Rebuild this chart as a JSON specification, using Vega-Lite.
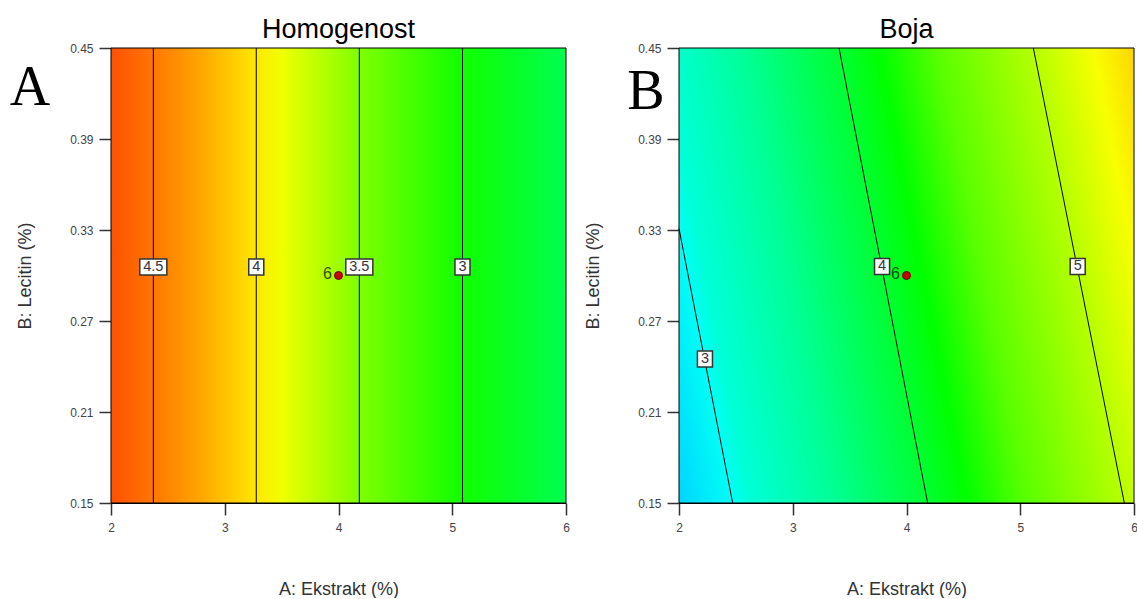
{
  "$schema": "https://vega.github.io/schema/vega-lite/v6.json",
  "padding": {"left": 9, "top": 16, "right": 0, "bottom": 0},
  "background": "white",
  "datasets": {
    "contA": [
      {"level": "4.5", "xa": 2.372, "ya": 0.15, "xb": 2.372, "yb": 0.45},
      {"level": "4", "xa": 3.277, "ya": 0.15, "xb": 3.277, "yb": 0.45},
      {"level": "3.5", "xa": 4.183, "ya": 0.15, "xb": 4.183, "yb": 0.45},
      {"level": "3", "xa": 5.09, "ya": 0.15, "xb": 5.09, "yb": 0.45}
    ],
    "labA": [
      {"label": "4.5", "x": 2.372, "y": 0.3056},
      {"label": "4", "x": 3.277, "y": 0.3056},
      {"label": "3.5", "x": 4.183, "y": 0.3056},
      {"label": "3", "x": 5.09, "y": 0.3056}
    ],
    "contB": [
      {"level": "3", "xa": 2.0, "ya": 0.331, "xb": 2.472, "yb": 0.15},
      {"level": "4", "xa": 3.407, "ya": 0.45, "xb": 4.186, "yb": 0.15},
      {"level": "5", "xa": 5.115, "ya": 0.45, "xb": 5.915, "yb": 0.15}
    ],
    "labB": [
      {"label": "3", "x": 2.228, "y": 0.245},
      {"label": "4", "x": 3.785, "y": 0.306},
      {"label": "5", "x": 5.505, "y": 0.306}
    ],
    "pt": [{"x": 4, "y": 0.3, "n": "6"}]
  },
  "bounds": "flush",
  "spacing": 113,
  "hconcat": [
    {
      "width": 455,
      "height": 455,
      "title": {"text": "Homogenost"},
      "layer": [
        {
          "data": {"values": [{"panel": "A"}]},
          "mark": {
            "type": "rect",
            "stroke": "black",
            "strokeWidth": 1,
            "fill": {
              "gradient": "linear",
              "x1": 0, "y1": 0, "x2": 1, "y2": 0,
              "stops": [
                {"offset": 0, "color": "#ff5000"},
                {"offset": 0.095, "color": "#ff7800"},
                {"offset": 0.2, "color": "#ffa800"},
                {"offset": 0.32, "color": "#ffe800"},
                {"offset": 0.375, "color": "#f0ff00"},
                {"offset": 0.545, "color": "#80ff00"},
                {"offset": 0.77, "color": "#10ff00"},
                {"offset": 1, "color": "#00ff50"}
              ]
            }
          },
          "encoding": {
            "x": {"datum": 2, "type": "quantitative", "scale": {"domain": [2, 6], "nice": false, "zero": false}, "axis": {"values": [2, 3, 4, 5, 6], "format": "d"}, "title": "A: Ekstrakt (%)"},
            "x2": {"datum": 6},
            "y": {"datum": 0.15, "type": "quantitative", "scale": {"domain": [0.15, 0.45], "nice": false, "zero": false}, "axis": {"values": [0.15, 0.21, 0.27, 0.33, 0.39, 0.45], "format": ".2f"}, "title": "B: Lecitin (%)"},
            "y2": {"datum": 0.45}
          }
        },
        {
          "data": {"name": "contA"},
          "mark": {"type": "rule", "color": "black", "strokeWidth": 1},
          "encoding": {
            "x": {"field": "xa", "type": "quantitative", "title": "A: Ekstrakt (%)"},
            "x2": {"field": "xb"},
            "y": {"field": "ya", "type": "quantitative", "title": "B: Lecitin (%)"},
            "y2": {"field": "yb"},
            "detail": {"field": "level"}
          }
        },
        {
          "data": {"name": "labA"},
          "mark": {"type": "point", "filled": true, "fill": "white", "stroke": "#333333", "strokeWidth": 1.5, "opacity": 1, "size": 256},
          "encoding": {
            "x": {"field": "x", "type": "quantitative", "title": "A: Ekstrakt (%)"},
            "y": {"field": "y", "type": "quantitative", "title": "B: Lecitin (%)"},
            "shape": {"condition": {"test": "length(datum.label) > 1", "value": "M-1.69,-1L1.69,-1L1.69,1L-1.69,1Z"}, "value": "M-0.94,-1L0.94,-1L0.94,1L-0.94,1Z"}
          }
        },
        {
          "data": {"name": "labA"},
          "mark": {"type": "text", "font": "Liberation Sans", "fontSize": 14.5, "color": "#333340", "align": "center", "baseline": "middle"},
          "encoding": {
            "x": {"field": "x", "type": "quantitative", "title": "A: Ekstrakt (%)"},
            "y": {"field": "y", "type": "quantitative", "title": "B: Lecitin (%)"},
            "text": {"field": "label"}
          }
        },
        {
          "data": {"name": "pt"},
          "mark": {"type": "point", "filled": true, "fill": "#c40000", "stroke": "#700000", "strokeWidth": 1, "opacity": 1, "size": 64},
          "encoding": {
            "x": {"field": "x", "type": "quantitative", "title": "A: Ekstrakt (%)"},
            "y": {"field": "y", "type": "quantitative", "title": "B: Lecitin (%)"}
          }
        },
        {
          "data": {"name": "pt"},
          "mark": {"type": "text", "font": "Liberation Sans", "fontSize": 16, "dx": -11, "dy": -2, "color": "black", "opacity": 0.7, "align": "center", "baseline": "middle"},
          "encoding": {
            "x": {"field": "x", "type": "quantitative", "title": "A: Ekstrakt (%)"},
            "y": {"field": "y", "type": "quantitative", "title": "B: Lecitin (%)"},
            "text": {"field": "n"}
          }
        },
        {
          "data": {"values": [{"panel": "A"}]},
          "mark": {"type": "text", "font": "Liberation Serif", "fontSize": 56, "dx": -81, "dy": 57, "align": "center", "baseline": "alphabetic", "color": "black"},
          "encoding": {
            "x": {"datum": 2, "type": "quantitative"},
            "y": {"datum": 0.45, "type": "quantitative"},
            "text": {"field": "panel"}
          }
        }
      ]
    },
    {
      "width": 455,
      "height": 455,
      "title": {"text": "Boja"},
      "layer": [
        {
          "data": {"values": [{"panel": "B"}]},
          "mark": {
            "type": "rect",
            "stroke": "black",
            "strokeWidth": 1,
            "fill": {
              "gradient": "linear",
              "x1": 0, "y1": 1, "x2": 1.151, "y2": 0.7755,
              "stops": [
                {"offset": 0, "color": "#00d4ff"},
                {"offset": 0.1, "color": "#00fff5"},
                {"offset": 0.13, "color": "#00ffd8"},
                {"offset": 0.28, "color": "#00ff98"},
                {"offset": 0.46, "color": "#00ff30"},
                {"offset": 0.53, "color": "#00ff00"},
                {"offset": 0.64, "color": "#5aff00"},
                {"offset": 0.82, "color": "#b8ff00"},
                {"offset": 0.925, "color": "#f8ff00"},
                {"offset": 1, "color": "#ffd500"}
              ]
            }
          },
          "encoding": {
            "x": {"datum": 2, "type": "quantitative", "scale": {"domain": [2, 6], "nice": false, "zero": false}, "axis": {"values": [2, 3, 4, 5, 6], "format": "d"}, "title": "A: Ekstrakt (%)"},
            "x2": {"datum": 6},
            "y": {"datum": 0.15, "type": "quantitative", "scale": {"domain": [0.15, 0.45], "nice": false, "zero": false}, "axis": {"values": [0.15, 0.21, 0.27, 0.33, 0.39, 0.45], "format": ".2f"}, "title": "B: Lecitin (%)"},
            "y2": {"datum": 0.45}
          }
        },
        {
          "data": {"name": "contB"},
          "mark": {"type": "rule", "color": "black", "strokeWidth": 1},
          "encoding": {
            "x": {"field": "xa", "type": "quantitative", "title": "A: Ekstrakt (%)"},
            "x2": {"field": "xb"},
            "y": {"field": "ya", "type": "quantitative", "title": "B: Lecitin (%)"},
            "y2": {"field": "yb"},
            "detail": {"field": "level"}
          }
        },
        {
          "data": {"name": "labB"},
          "mark": {"type": "point", "filled": true, "fill": "white", "stroke": "#333333", "strokeWidth": 1.5, "opacity": 1, "size": 256},
          "encoding": {
            "x": {"field": "x", "type": "quantitative", "title": "A: Ekstrakt (%)"},
            "y": {"field": "y", "type": "quantitative", "title": "B: Lecitin (%)"},
            "shape": {"condition": {"test": "length(datum.label) > 1", "value": "M-1.69,-1L1.69,-1L1.69,1L-1.69,1Z"}, "value": "M-0.94,-1L0.94,-1L0.94,1L-0.94,1Z"}
          }
        },
        {
          "data": {"name": "labB"},
          "mark": {"type": "text", "font": "Liberation Sans", "fontSize": 14.5, "color": "#333340", "align": "center", "baseline": "middle"},
          "encoding": {
            "x": {"field": "x", "type": "quantitative", "title": "A: Ekstrakt (%)"},
            "y": {"field": "y", "type": "quantitative", "title": "B: Lecitin (%)"},
            "text": {"field": "label"}
          }
        },
        {
          "data": {"name": "pt"},
          "mark": {"type": "point", "filled": true, "fill": "#c40000", "stroke": "#700000", "strokeWidth": 1, "opacity": 1, "size": 64},
          "encoding": {
            "x": {"field": "x", "type": "quantitative", "title": "A: Ekstrakt (%)"},
            "y": {"field": "y", "type": "quantitative", "title": "B: Lecitin (%)"}
          }
        },
        {
          "data": {"name": "pt"},
          "mark": {"type": "text", "font": "Liberation Sans", "fontSize": 16, "dx": -11, "dy": -2, "color": "black", "opacity": 0.7, "align": "center", "baseline": "middle"},
          "encoding": {
            "x": {"field": "x", "type": "quantitative", "title": "A: Ekstrakt (%)"},
            "y": {"field": "y", "type": "quantitative", "title": "B: Lecitin (%)"},
            "text": {"field": "n"}
          }
        },
        {
          "data": {"values": [{"panel": "B"}]},
          "mark": {"type": "text", "font": "Liberation Serif", "fontSize": 56, "dx": -33, "dy": 61, "align": "center", "baseline": "alphabetic", "color": "black"},
          "encoding": {
            "x": {"datum": 2, "type": "quantitative"},
            "y": {"datum": 0.45, "type": "quantitative"},
            "text": {"field": "panel"}
          }
        }
      ]
    }
  ],
  "config": {
    "view": {"stroke": null},
    "axis": {
      "grid": false,
      "zindex": 1,
      "domainColor": "black",
      "domainWidth": 1,
      "tickColor": "#333333",
      "tickWidth": 1.5,
      "tickSize": 12,
      "labelColor": "#444444",
      "labelFont": "Liberation Sans",
      "labelFontSize": 12,
      "titleColor": "#333333",
      "titleFont": "Liberation Sans",
      "titleFontSize": 18,
      "titleFontWeight": "normal"
    },
    "axisX": {"labelFlush": false, "labelPadding": 7, "titlePadding": 47},
    "axisY": {"labelPadding": 6, "titlePadding": 35},
    "title": {"font": "Liberation Sans", "fontSize": 27, "fontWeight": "normal", "color": "black", "offset": -2}
  }
}
